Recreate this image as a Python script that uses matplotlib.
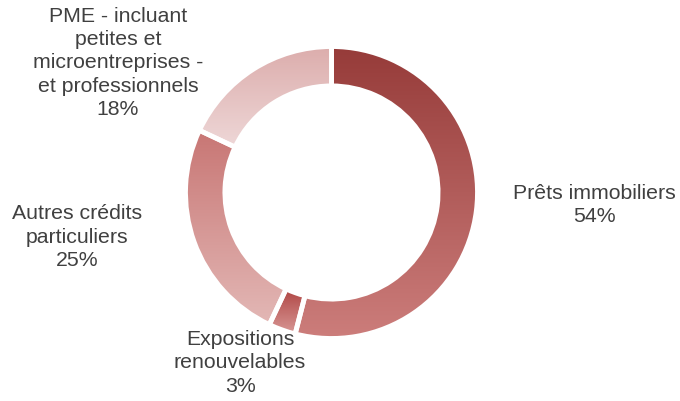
import matplotlib
matplotlib.use("Agg")
import matplotlib.pyplot as plt
import numpy as np
from matplotlib.colors import LinearSegmentedColormap

labels = ["Prêts immobiliers", "Expositions\nrenouvelables", "Autres crédits\nparticuliers",
          "PME - incluant\npetites et\nmicroentreprises -\net professionnels"]
shares = [54, 3, 25, 18]
# top -> bottom gradient per segment
shades = [("#963b39", "#cc7d7b"), ("#b04644", "#d89896"),
          ("#c87674", "#e3b8b6"), ("#dcadac", "#eed7d7")]
label_pos = [(594, 205), (240, 363), (77, 237), (118, 63)]  # pixel centres

W, H = 680, 401
plt.rcParams.update({"font.family": ["Liberation Sans", "DejaVu Sans"]})

fig = plt.figure(figsize=(W / 100, H / 100), dpi=100)
cx, cy, r = 331.5, 192.5, 146
ax = fig.add_axes([(cx - r) / W, (H - cy - r) / H, 2 * r / W, 2 * r / H])

wedges, _ = ax.pie(shares, startangle=90, counterclock=False, radius=1,
                   wedgeprops=dict(width=0.27, facecolor="none",
                                   edgecolor="white", linewidth=3.5))
ax.set_aspect("equal")
ax.axis("off")

# vertical gradient inside each segment, clipped to the wedge outline
grad = np.linspace(0, 1, 256).reshape(-1, 1)
for w, (top, bot) in zip(wedges, shades):
    ext = w.get_path().get_extents()
    cmap = LinearSegmentedColormap.from_list("g", [top, bot])
    im = ax.imshow(grad, cmap=cmap, aspect="auto", origin="upper",
                   extent=(ext.x0, ext.x1, ext.y0, ext.y1), zorder=0,
                   interpolation="bilinear")
    im.set_clip_path(w)
    w.set_zorder(2)
ax.set_xlim(-1, 1)
ax.set_ylim(-1, 1)

for lab, s, (px, py) in zip(labels, shares, label_pos):
    fig.text(px / W, 1 - py / H, f"{lab}\n{s}%", ha="center", va="center",
             fontsize=15.3, color="#404040", linespacing=1.27)

fig.savefig("out.png", dpi=100)
